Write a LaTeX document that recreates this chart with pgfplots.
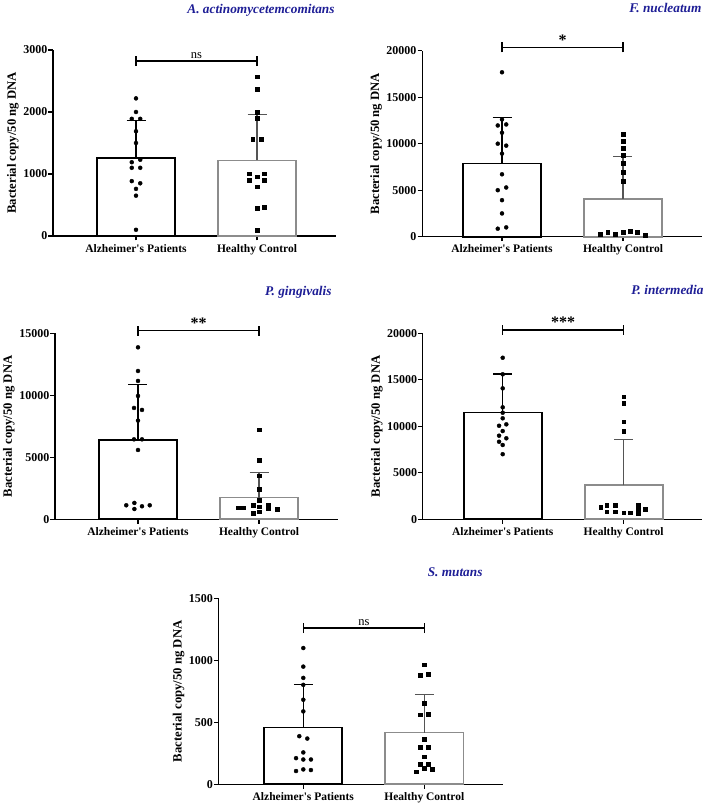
\documentclass[border=0pt]{standalone}
\usepackage{fontspec}
\setmainfont{Liberation Serif}
\usepackage{pgfplots}
\pgfplotsset{compat=1.18}
\definecolor{navy}{RGB}{30,30,150}
\definecolor{hgray}{RGB}{140,140,140}
\definecolor{egray}{RGB}{85,85,85}
\pgfplotsset{
 panel/.style={
  scale only axis, height=186pt, ymin=0, clip=false,
  axis lines=left,
  axis line style={line width=1.2pt,-},
  xtick={0,1}, xticklabels={Alzheimer\textquotesingle s Patients,Healthy Control},
  tick align=outside, major tick length=4.5pt,
  tick style={black, line width=1.2pt},
  xticklabel style={font=\bfseries\fontsize{11.5}{13}\selectfont},
  yticklabel style={font=\bfseries\fontsize{12}{13}\selectfont, inner sep=1pt},
  /pgf/number format/assume math mode=true,
  /pgf/number format/1000 sep={},
  scaled y ticks=false,
  ylabel={Bacterial copy/50 ng DNA},
  ylabel style={font=\bfseries\fontsize{12.7}{14}\selectfont},
 },
 alzbar/.style={ybar, bar shift=0pt, bar width=0.645, draw=black, fill=white, line width=1.7pt,
   error bars/.cd, y dir=plus, y explicit,
   error bar style={line width=1.2pt, black},
   error mark options={rotate=90, mark size=9.5pt, line width=1.2pt, black}},
 hcbar/.style={ybar, bar shift=0pt, bar width=0.645, draw=hgray, fill=white, line width=1.7pt,
   error bars/.cd, y dir=plus, y explicit,
   error bar style={line width=1.2pt, egray},
   error mark options={rotate=90, mark size=9.5pt, line width=1.2pt, egray}},
 alzpts/.style={only marks, mark=*, mark size=2pt, black},
 hcpts/.style={only marks, mark=square*, mark size=1.9pt, black},
}
\newcommand{\sig}[3]{% y, text, font
  \draw[line width=1.4pt] (axis cs:0,#1) -- (axis cs:1,#1);
  \draw[line width=1.4pt] ([yshift=-5pt]axis cs:0,#1) -- ([yshift=5pt]axis cs:0,#1);
  \draw[line width=1.4pt] ([yshift=-5pt]axis cs:1,#1) -- ([yshift=5pt]axis cs:1,#1);
  \node[anchor=south, inner sep=2pt, font=#3] at (axis cs:0.5,#1) {#2};
}
\newcommand{\ttl}[1]{\bfseries\itshape\fontsize{13.3}{15}\selectfont\color{navy}#1}
\begin{document}
\begin{tikzpicture}
\useasboundingbox (0pt,0pt) rectangle (709pt,807pt);

% Panel 1: A. actinomycetemcomitans
\begin{axis}[panel, at={(136pt,571pt)}, anchor=origin, width=282.7pt,
  xmin=-0.686, xmax=1.65, ymax=3000, ytick={0,1000,2000,3000}]
\addplot[alzbar] coordinates {(0,1263) +- (0,603)};
\addplot[hcbar] coordinates {(1,1220) +- (0,742)};
\addplot[alzpts] coordinates {(0,2220)(0,2000)(-0.035,1890)(0.035,1890)(0,1690)(0,1500)
 (-0.035,1190)(0.035,1230)(-0.035,1100)(0.035,1100)(-0.035,885)(0.035,850)(0,760)(0,650)(0,100)};
\addplot[hcpts] coordinates {(1,2570)(1,2365)(1,2000)(1,1898)(0.964,1560)(1.036,1560)
 (0.938,1005)(1,957)(1.062,1005)(0.938,900)(1.062,900)(1,795)(1,452)(1.06,467)(1,97)};
\sig{2820}{ns}{\fontsize{12.5}{14}\selectfont}
\end{axis}
\node[anchor=east] at (338pt,797pt) {\ttl{A. actinomycetemcomitans}};

% Panel 2: F. nucleatum
\begin{axis}[panel, at={(502pt,570.3pt)}, anchor=origin, width=279.5pt,
  xmin=-0.66, xmax=1.65, ymax=20000, ytick={0,5000,10000,15000,20000}]
\addplot[alzbar] coordinates {(0,7860) +- (0,4930)};
\addplot[hcbar] coordinates {(1,4070) +- (0,4570)};
\addplot[alzpts] coordinates {(0,17680)(0,12610)(-0.035,11960)(0.035,12070)(0,11180)(-0.035,10000)(0.035,9790)
 (0,8930)(0,6710)(-0.035,5000)(0.035,5290)(0,3930)(0,2500)(-0.035,860)(0.035,1000)};
\addplot[hcpts] coordinates {(1,11000)(1,10290)(1,9540)(1,8750)(1,7860)(1,6960)(1,5960)
 (0.81,250)(0.873,460)(0.937,250)(1,460)(1.06,600)(1.12,460)(1.185,180)};
\sig{20360}{*}{\bfseries\fontsize{16}{17}\selectfont}
\end{axis}
\node[anchor=east] at (705pt,799pt) {\ttl{F. nucleatum}};

% Panel 3: P. gingivalis
\begin{axis}[panel, at={(138pt,287.7pt)}, anchor=origin, width=282.7pt,
  xmin=-0.686, xmax=1.65, ymax=15000, ytick={0,5000,10000,15000}]
\addplot[alzbar] coordinates {(0,6400) +- (0,4490)};
\addplot[hcbar] coordinates {(1,1750) +- (0,2040)};
\addplot[alzpts] coordinates {(0,13870)(0,11960)(0,11160)(0,9950)(-0.033,8980)(0.033,8820)(0,7960)
 (-0.033,6450)(0.033,6450)(0,5590)(-0.097,1130)(-0.03,1320)(-0.03,830)(0.033,1050)(0.097,1130)};
\addplot[hcpts] coordinates {(1,7230)(1,4780)(1,3520)(1,2420)(1,1560)
 (0.83,935)(0.87,935)(0.95,1150)(0.95,485)(1,1015)(1,613)(1.074,1150)(1.074,890)(1.15,806)};
\sig{15215}{**}{\bfseries\fontsize{16}{17}\selectfont}
\end{axis}
\node[anchor=east] at (335pt,515pt) {\ttl{P. gingivalis}};

% Panel 4: P. intermedia
\begin{axis}[panel, at={(502.7pt,287.7pt)}, anchor=origin, width=279.5pt,
  xmin=-0.66, xmax=1.65, ymax=20000, ytick={0,5000,10000,15000,20000}]
\addplot[alzbar] coordinates {(0,11480) +- (0,4150)};
\addplot[hcbar] coordinates {(1,3660) +- (0,4940)};
\addplot[alzpts] coordinates {(0,17370)(0,15590)(0,14080)(0,12040)(0,11460)(0,10860)(-0.03,10060)(0.03,10210)
 (0,9490)(-0.03,8990)(0.03,8710)(-0.03,8340)(0,7990)(0,7000)};
\addplot[hcpts] coordinates {(1,13190)(1,12470)(1,10500)(1,9500)
 (0.81,1290)(0.86,1540)(0.86,820)(0.93,1540)(0.93,820)(1,710)(1.055,710)(1.12,1540)(1.12,1080)(1.12,600)(1.18,1080)};
\sig{20360}{***}{\bfseries\fontsize{16}{17}\selectfont}
\end{axis}
\node[anchor=east] at (707pt,517pt) {\ttl{P. intermedia}};

% Panel 5: S. mutans
\begin{axis}[panel, at={(303.3pt,22.7pt)}, anchor=origin, width=284.4pt,
  xmin=-0.70, xmax=1.65, ymax=1500, ytick={0,500,1000,1500}]
\addplot[alzbar] coordinates {(0,457) +- (0,345)};
\addplot[hcbar] coordinates {(1,417) +- (0,310)};
\addplot[alzpts] coordinates {(0,1099)(0,949)(0,858)(0,802)(0,682)(0,588)(-0.033,388)(0.033,369)
 (0,257)(-0.06,211)(0,200)(0.063,200)(-0.06,107)(0,120)(0.063,115)};
\addplot[hcpts] coordinates {(1,965)(0.967,880)(1.03,890)(1,655)(0.967,561)(1.03,567)(1,364)
 (0.967,302)(1.03,302)(1,222)(0.967,163)(1.03,163)(0.934,102)(1,128)(1.063,123)};
\sig{1259}{ns}{\fontsize{12.5}{14}\selectfont}
\end{axis}
\node[anchor=east] at (486pt,235pt) {\ttl{S. mutans}};
\end{tikzpicture}
\end{document}
